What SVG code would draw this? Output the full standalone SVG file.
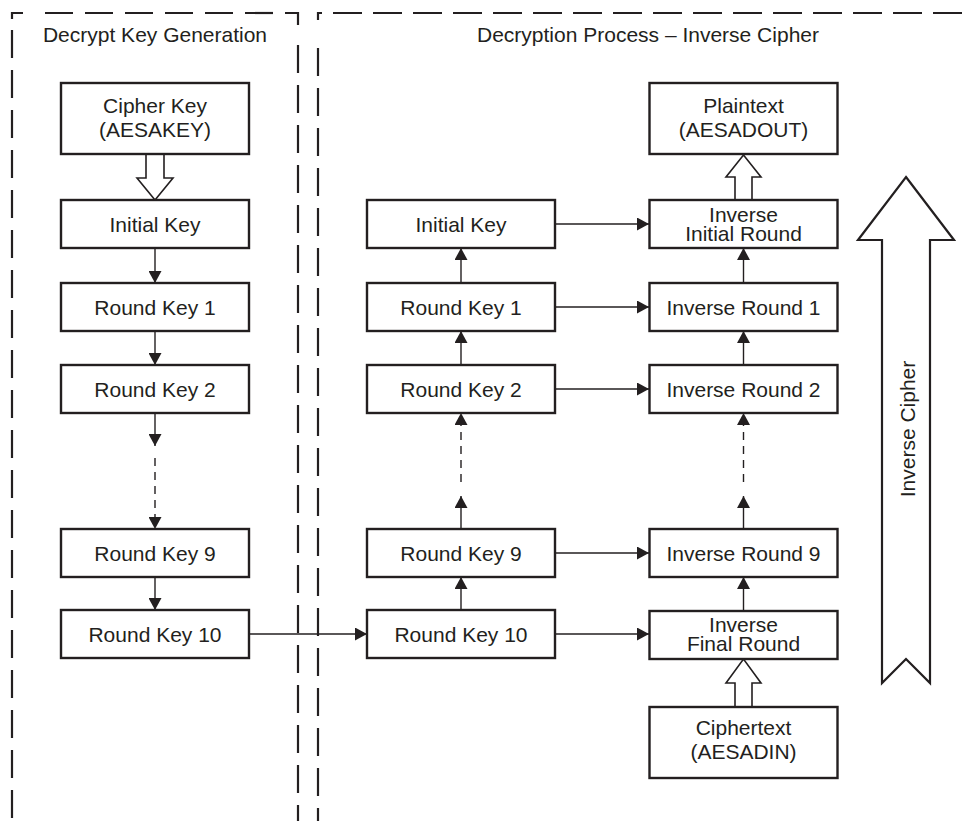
<svg xmlns="http://www.w3.org/2000/svg" width="966" height="821" viewBox="0 0 966 821">
<style>
  .panel{fill:none;stroke:#231f20;stroke-width:2.2}
  .dash{stroke-dasharray:28,12}
  .box{fill:#fff;stroke:#231f20;stroke-width:2.4}
  .t{font-family:"Liberation Sans",Arial,sans-serif;font-size:21px;fill:#231f20;text-anchor:middle}
  .c{fill:none;stroke:#231f20;stroke-width:1.4}
  .d{fill:none;stroke:#231f20;stroke-width:1.4;stroke-dasharray:8,6}
  .hollow{fill:#fff;stroke:#231f20;stroke-width:1.6}
</style>
<defs>
  <marker id="ah" markerUnits="userSpaceOnUse" markerWidth="12" markerHeight="13" refX="12" refY="6.5" orient="auto">
    <path d="M0,0 L12,6.5 L0,13 z" fill="#231f20"/>
  </marker>
</defs>
<rect width="966" height="821" fill="#fff"/>

<g id="panels">
  <path class="panel" d="M12,19 V13 H23"/>
  <path class="panel dash" d="M12,30 V821"/>
  <path class="panel dash" d="M45,13 H274"/>
  <path class="panel" d="M285,13 H298 V25"/>
  <path class="panel dash" d="M298,45 V821"/>
  <path class="panel" d="M318,20 V13 H322"/>
  <path class="panel dash" d="M318,48 V821"/>
  <path class="panel" d="M333,13 H966" style="stroke-dasharray:29,11"/>
  <text class="t" x="155" y="41.5">Decrypt Key Generation</text>
  <text class="t" x="648" y="41.5">Decryption Process – Inverse Cipher</text>
</g>

<g id="connectors">
  <!-- left column, downward -->
  <line class="c" x1="155" y1="248" x2="155" y2="283" marker-end="url(#ah)"/>
  <line class="c" x1="155" y1="331" x2="155" y2="365" marker-end="url(#ah)"/>
  <line class="c" x1="155" y1="413" x2="155" y2="446" marker-end="url(#ah)"/>
  <line class="d" x1="155" y1="458" x2="155" y2="529" marker-end="url(#ah)"/>
  <line class="c" x1="155" y1="577" x2="155" y2="610" marker-end="url(#ah)"/>
  <line class="c" x1="249" y1="634" x2="367" y2="634" marker-end="url(#ah)"/>
  <!-- middle column, upward -->
  <line class="c" x1="461" y1="610" x2="461" y2="577" marker-end="url(#ah)"/>
  <line class="c" x1="461" y1="529" x2="461" y2="496" marker-end="url(#ah)"/>
  <line class="d" x1="461" y1="482" x2="461" y2="413" marker-end="url(#ah)"/>
  <line class="c" x1="461" y1="365" x2="461" y2="331" marker-end="url(#ah)"/>
  <line class="c" x1="461" y1="283" x2="461" y2="248" marker-end="url(#ah)"/>
  <!-- right column, upward -->
  <line class="c" x1="743.5" y1="611" x2="743.5" y2="577" marker-end="url(#ah)"/>
  <line class="c" x1="743.5" y1="529" x2="743.5" y2="496" marker-end="url(#ah)"/>
  <line class="d" x1="743.5" y1="482" x2="743.5" y2="413" marker-end="url(#ah)"/>
  <line class="c" x1="743.5" y1="365" x2="743.5" y2="331" marker-end="url(#ah)"/>
  <line class="c" x1="743.5" y1="283" x2="743.5" y2="248" marker-end="url(#ah)"/>
  <!-- horizontal key feeds -->
  <line class="c" x1="555" y1="224" x2="649" y2="224" marker-end="url(#ah)"/>
  <line class="c" x1="555" y1="307" x2="649" y2="307" marker-end="url(#ah)"/>
  <line class="c" x1="555" y1="389" x2="649" y2="389" marker-end="url(#ah)"/>
  <line class="c" x1="555" y1="553" x2="649" y2="553" marker-end="url(#ah)"/>
  <line class="c" x1="555" y1="634" x2="649" y2="634" marker-end="url(#ah)"/>
  <!-- hollow arrows -->
  <polyline class="hollow" points="146,154 146,178 137,178 155,200 173,178 164,178 164,154"/>
  <polyline class="hollow" points="735,200 735,177 726,177 743.5,155 761,177 752,177 752,200"/>
  <polyline class="hollow" points="735,707 735,683 726,683 743.5,659 761,683 752,683 752,707"/>
</g>

<g id="n-cipherkey"><rect class="box" x="61" y="83" width="188" height="71"/><text class="t" x="155" y="113">Cipher Key</text><text class="t" x="155" y="137">(AESAKEY)</text></g>
<g id="n-l-initialkey"><rect class="box" x="61" y="200" width="188" height="48"/><text class="t" x="155" y="231.5">Initial Key</text></g>
<g id="n-l-rk1"><rect class="box" x="61" y="283" width="188" height="48"/><text class="t" x="155" y="314.5">Round Key 1</text></g>
<g id="n-l-rk2"><rect class="box" x="61" y="365" width="188" height="48"/><text class="t" x="155" y="396.5">Round Key 2</text></g>
<g id="n-l-rk9"><rect class="box" x="61" y="529" width="188" height="48"/><text class="t" x="155" y="560.5">Round Key 9</text></g>
<g id="n-l-rk10"><rect class="box" x="61" y="610" width="188" height="48"/><text class="t" x="155" y="641.5">Round Key 10</text></g>

<g id="n-m-initialkey"><rect class="box" x="367" y="200" width="188" height="48"/><text class="t" x="461" y="231.5">Initial Key</text></g>
<g id="n-m-rk1"><rect class="box" x="367" y="283" width="188" height="48"/><text class="t" x="461" y="314.5">Round Key 1</text></g>
<g id="n-m-rk2"><rect class="box" x="367" y="365" width="188" height="48"/><text class="t" x="461" y="396.5">Round Key 2</text></g>
<g id="n-m-rk9"><rect class="box" x="367" y="529" width="188" height="48"/><text class="t" x="461" y="560.5">Round Key 9</text></g>
<g id="n-m-rk10"><rect class="box" x="367" y="610" width="188" height="48"/><text class="t" x="461" y="641.5">Round Key 10</text></g>

<g id="n-plaintext"><rect class="box" x="649.5" y="83" width="188" height="71"/><text class="t" x="743.5" y="113">Plaintext</text><text class="t" x="743.5" y="137">(AESADOUT)</text></g>
<g id="n-inv-initial"><rect class="box" x="649.5" y="200" width="188" height="48"/><text class="t" x="743.5" y="221.5">Inverse</text><text class="t" x="743.5" y="240.5">Initial Round</text></g>
<g id="n-inv-r1"><rect class="box" x="649.5" y="283" width="188" height="48"/><text class="t" x="743.5" y="314.5">Inverse Round 1</text></g>
<g id="n-inv-r2"><rect class="box" x="649.5" y="365" width="188" height="48"/><text class="t" x="743.5" y="396.5">Inverse Round 2</text></g>
<g id="n-inv-r9"><rect class="box" x="649.5" y="529" width="188" height="48"/><text class="t" x="743.5" y="560.5">Inverse Round 9</text></g>
<g id="n-inv-final"><rect class="box" x="649.5" y="611" width="188" height="48"/><text class="t" x="743.5" y="631.5">Inverse</text><text class="t" x="743.5" y="650.5">Final Round</text></g>
<g id="n-ciphertext"><rect class="box" x="649.5" y="707" width="188" height="71"/><text class="t" x="743.5" y="735">Ciphertext</text><text class="t" x="743.5" y="759">(AESADIN)</text></g>

<g id="n-big-arrow">
  <polygon points="906,177 954,240 930,240 930,683 906,659 882,683 882,240 858,240" fill="#fff" stroke="#231f20" stroke-width="2.2" stroke-linejoin="miter"/>
  <text class="t" transform="translate(915,429) rotate(-90)">Inverse Cipher</text>
</g>
</svg>
